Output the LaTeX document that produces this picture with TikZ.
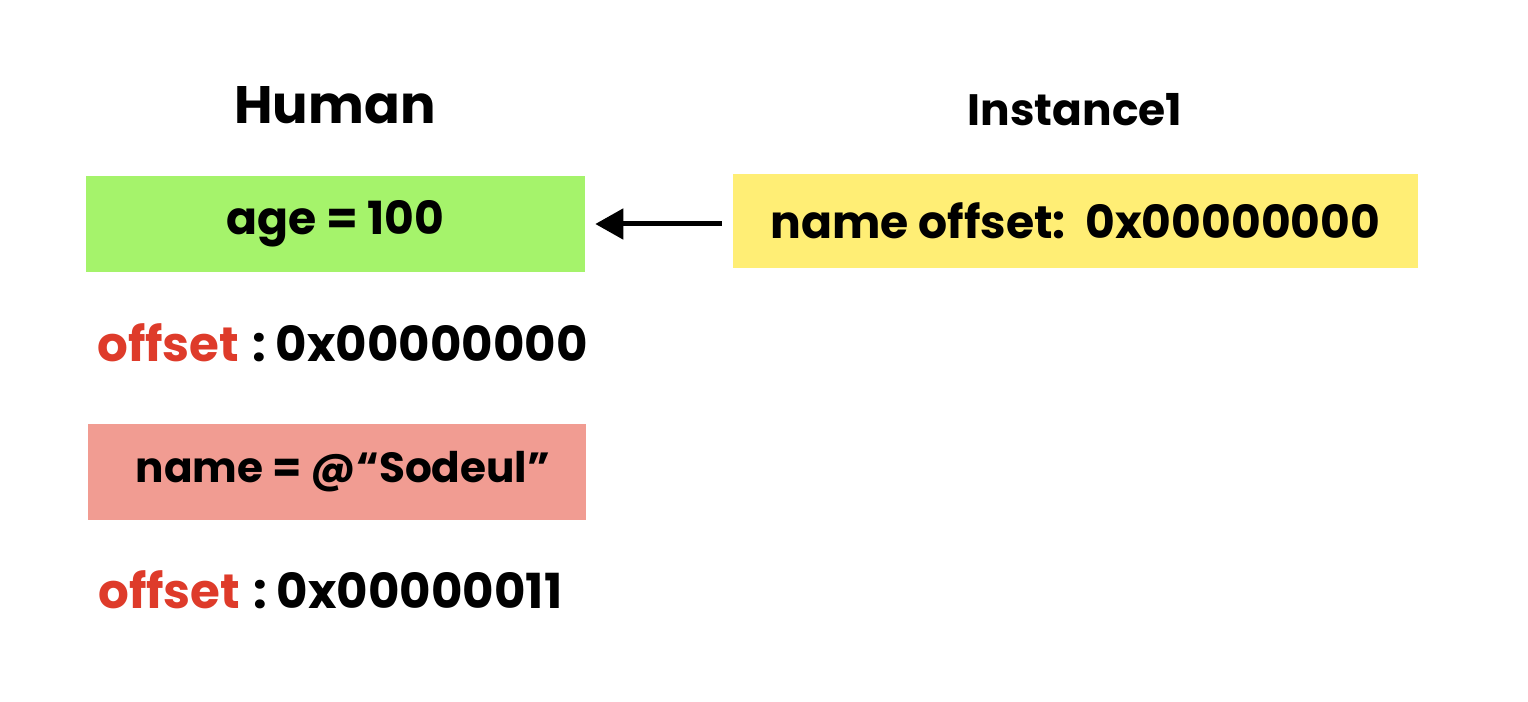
\documentclass[tikz,border=0pt]{standalone}
\usepackage{fontspec}
\setmainfont{Poppins}
\usepackage{xcolor}
\usetikzlibrary{arrows.meta, positioning}

\definecolor{agegreen}{HTML}{A5F36B}
\definecolor{namepink}{HTML}{F19C92}
\definecolor{instyellow}{HTML}{FFEE75}
\definecolor{offred}{HTML}{DE3B2A}

\newcommand{\offsetline}[1]{{\color{offred}offset}\hspace{0.26cm}:\hspace{0.2cm}#1}

\begin{document}
\begin{tikzpicture}[x=0.02cm, y=-0.02cm]
\tikzstyle{field} = [rectangle, minimum width=9.98cm, minimum height=1.92cm, text centered, inner sep=0pt, font=\bfseries\fontsize{26}{30}\selectfont]
\tikzstyle{title} = [font=\bfseries\fontsize{30}{36}\selectfont]
\tikzstyle{offsettext} = [anchor=west, inner sep=0pt, font=\bfseries\fontsize{27.5}{32}\selectfont]
\tikzstyle{arrow} = [line width=0.1cm, -{Triangle[length=0.56cm, width=0.6cm]}]

\useasboundingbox (0,0) rectangle (1528,702);

% Human side
\node (human) [title] at (335,105) {Human};
\node (age) [field, fill=agegreen] at (335.5,224) {age = 100};
\node (off1) [offsettext] at (97,343) {\offsetline{0x00000000}};
\node (name) [field, fill=namepink] at (337,472) {\fontsize{24}{28}\selectfont\hspace{0.24cm}name = @“Sodeul”};
\node (off2) [offsettext] at (98,590) {\offsetline{0x00000011}};

% Instance side
\node (inst) [title, font=\bfseries\fontsize{25}{30}\selectfont] at (1075,110) {Instance1};
\node (ptr) [field, fill=instyellow, minimum width=13.7cm, minimum height=1.88cm] at (1075.5,221) {name offset:\ \ 0x00000000};

% Connections
\draw [arrow, shorten >=0.2cm, shorten <=0.22cm] (ptr.west |- age.east) -- (age.east);

\end{tikzpicture}
\end{document}
